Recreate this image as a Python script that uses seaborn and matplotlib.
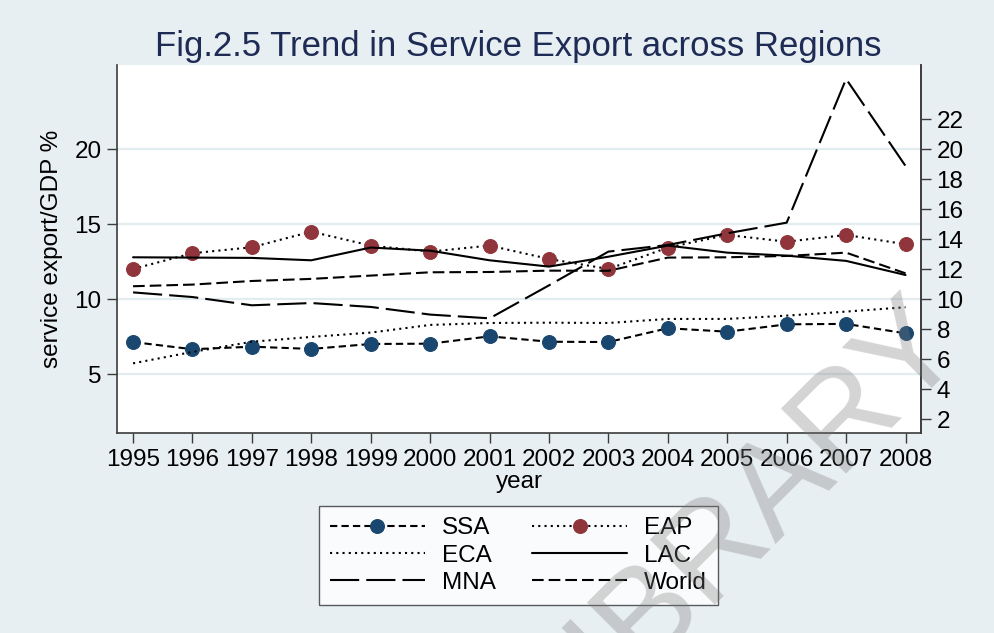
import matplotlib
matplotlib.use("Agg")
import matplotlib.pyplot as plt
import seaborn as sns
import pandas as pd

# ---- data: service exports as % of GDP, by region ----
years = list(range(1995, 2009))
ssa = [7.15, 6.67, 6.84, 6.69, 7.02, 7.04, 7.53, 7.17, 7.15, 8.07, 7.84, 8.33, 8.36, 7.73]
eap = [12.02, 13.07, 13.47, 14.51, 13.58, 13.18, 13.58, 12.69, 12.02, 13.45, 14.29, 13.84, 14.29, 13.67]
eca = [5.73, 6.49, 7.17, 7.49, 7.78, 8.29, 8.42, 8.44, 8.42, 8.69, 8.69, 8.91, 9.18, 9.47]
lac = [12.80, 12.78, 12.76, 12.60, 13.45, 13.24, 12.60, 12.18, 12.84, 13.58, 13.11, 12.91, 12.56, 11.62]
mna = [10.46, 10.15, 9.60, 9.75, 9.49, 8.98, 8.73, 10.93, 13.18, 13.62, 14.40, 15.11, 24.69, 18.89]
world = [10.87, 10.98, 11.22, 11.36, 11.58, 11.80, 11.82, 11.91, 11.90, 12.78, 12.80, 12.89, 13.11, 11.73]

left_ticks = [5, 10, 15, 20]
right_ticks = [2, 4, 6, 8, 10, 12, 14, 16, 18, 20, 22]

BG = "#e8eff2"
GRID = "#e3ecef"
AXC = "#3c3c3c"
NAVY = "#1a476f"
MAROON = "#90353b"
TITLE_C = "#1e2b55"

sns.set_theme(style="white")
plt.rcParams["font.family"] = ["Liberation Sans", "DejaVu Sans"]
plt.rcParams["text.color"] = "black"
plt.rcParams["axes.labelcolor"] = "black"
plt.rcParams["lines.scale_dashes"] = True

fig = plt.figure(figsize=(9.95, 6.33), dpi=100, facecolor=BG)
ax = fig.add_axes([0.1176, 0.3160, 0.8080, 0.5813])
ax.set_facecolor("white")

FS = 17.5
LW = 1.5

series = [
    ("SSA", ssa, dict(linestyle=(0, (3.5, 2.0)), marker="o", markersize=10,
                      markerfacecolor=NAVY, markeredgecolor=NAVY)),
    ("EAP", eap, dict(linestyle=(0, (1.0, 2.0)), marker="o", markersize=10,
                      markerfacecolor=MAROON, markeredgecolor=MAROON)),
    ("ECA", eca, dict(linestyle=(0, (1.0, 2.0)))),
    ("LAC", lac, dict(linestyle="-")),
    ("MNA", mna, dict(linestyle=(0, (14.0, 3.4)))),
    ("World", world, dict(linestyle=(0, (5.6, 2.4)))),
]

handles = {}
for name, vals, style in series:
    df = pd.DataFrame({"year": years, "value": vals})
    sns.lineplot(data=df, x="year", y="value", ax=ax, color="black",
                 linewidth=LW, label=name, legend=False, zorder=3, **style)
    handles[name] = ax.lines[-1]

# both vertical axes use the same scale
ylim = (1.087, 25.62)
ax.set_xlim(1994.73, 2008.26)
ax.set_ylim(*ylim)
ax.set_xticks(years)
ax.set_xticklabels([str(y) for y in years])
ax.set_yticks(left_ticks)
ax.set_xlabel("year", fontsize=FS, labelpad=0)
ax.set_ylabel("service export/GDP %", fontsize=FS, labelpad=8)
ax.grid(axis="y", color=GRID, linewidth=1.6, zorder=0)
ax.grid(axis="x", visible=False)
ax.set_axisbelow(True)

for side in ("left", "bottom", "right"):
    ax.spines[side].set_visible(True)
    ax.spines[side].set_color(AXC)
    ax.spines[side].set_linewidth(1.2)
ax.spines["top"].set_visible(False)
ax.tick_params(axis="both", which="major", direction="out", length=7.2, width=1.0,
               color=AXC, labelsize=FS, labelcolor="black", pad=4,
               left=True, bottom=True)

ax2 = ax.twinx()
ax2.set_ylim(*ylim)
ax2.set_yticks(right_ticks)
ax2.grid(False)
for side in ("left", "bottom", "top"):
    ax2.spines[side].set_visible(False)
ax2.spines["right"].set_color(AXC)
ax2.spines["right"].set_linewidth(1.2)
ax2.tick_params(axis="y", direction="out", length=7.2, width=1.0, color=AXC,
                labelsize=FS, labelcolor="black", pad=4, right=True)

fig.text(0.521, 0.9115, "Fig.2.5 Trend in Service Export across Regions",
         ha="center", va="baseline", fontsize=25, color=TITLE_C)

order = ["SSA", "ECA", "MNA", "EAP", "LAC", "World"]
leg = fig.legend([handles[n] for n in order], order, loc="center",
                 bbox_to_anchor=(0.5211, 0.1224), ncol=2, fontsize=FS,
                 frameon=True, fancybox=False, handlelength=3.9,
                 handletextpad=0.7, columnspacing=1.5, labelspacing=0.22,
                 borderpad=0.45, borderaxespad=0)
leg.get_frame().set_edgecolor("#333333")
leg.get_frame().set_linewidth(1.0)
leg.get_frame().set_facecolor("white")
for t in leg.get_texts():
    t.set_color("black")

# faint diagonal stamp across the lower right
fig.text(740 / 995, 1 - 521 / 633, "LIBRARY", rotation=45, rotation_mode="anchor",
         ha="center", va="center", fontsize=96, color="#7a7a7a", alpha=0.32,
         zorder=10)

fig.savefig("out.png", dpi=100, facecolor=BG)
